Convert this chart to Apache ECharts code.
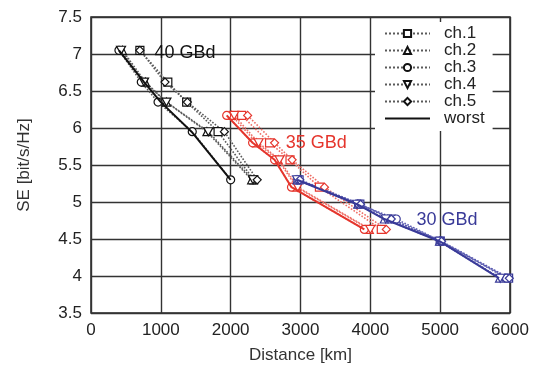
<!DOCTYPE html>
<html>
<head>
<meta charset="utf-8">
<script src="https://cdn.jsdelivr.net/npm/echarts@6/dist/echarts.min.js"></script>
<style>
  html, body { margin: 0; padding: 0; background: #fff; }
  #chart { width: 533px; height: 369px; }
</style>
</head>
<body>
<div id="chart"></div>
<script>
// 40 GBd
var se40 = [7.05, 6.62, 6.35, 5.95, 5.3];
var d40ch1 = [700, 1100, 1370, 1820, 2330];
var d40ch2 = [450, 780, 1080, 1660, 2300];
var d40ch3 = [400, 720, 960, 1450, 2000];
var d40ch4 = [430, 760, 1080, 1680, 2320];
var d40ch5 = [700, 1060, 1380, 1910, 2380];
var d40worst = [400, 760, 1000, 1440, 2000];

// 35 GBd
var se35 = [6.17, 5.8, 5.57, 5.2, 4.63];
var d35ch1 = [2157, 2557, 2850, 3271, 4157];
var d35ch2 = [2014, 2371, 2680, 2943, 3986];
var d35ch3 = [1943, 2314, 2629, 2871, 3914];
var d35ch4 = [2050, 2400, 2700, 2960, 4000];
var d35ch5 = [2243, 2629, 2880, 3343, 4229];
var d35worst = [1943, 2314, 2629, 2871, 3914];

// 30 GBd
var se30 = [5.3, 4.97, 4.77, 4.47, 3.97];
var d30ch1 = [2980, 3850, 4300, 5000, 5980];
var d30ch2 = [2950, 3820, 4200, 4990, 5850];
var d30ch3 = [2960, 3830, 4371, 5010, 5950];
var d30ch4 = [2950, 3810, 4220, 4990, 5860];
var d30ch5 = [2990, 3860, 4300, 5020, 5990];
var d30worst = [2950, 3810, 4200, 4990, 5843];

var xTicks = [0, 1000, 2000, 3000, 4000, 5000, 6000];
var yTicks = [3.5, 4, 4.5, 5, 5.5, 6, 6.5, 7, 7.5];

var names = ["ch.1", "ch.2", "ch.3", "ch.4", "ch.5", "worst"];
var symbols = ["rect", "triangle", "circle", "path://M0,0 L10,0 L5,9 Z", "diamond", "none"];

var groups = [
  { se: se40, d: [d40ch1, d40ch2, d40ch3, d40ch4, d40ch5, d40worst], main: "#111111", dot: "#5a5a5a", label: "40 GBd", at: [910, 7.01] },
  { se: se35, d: [d35ch1, d35ch2, d35ch3, d35ch4, d35ch5, d35worst], main: "#e5352c", dot: "#ee6e66", label: "35 GBd", at: [2790, 5.8] },
  { se: se30, d: [d30ch1, d30ch2, d30ch3, d30ch4, d30ch5, d30worst], main: "#393a98", dot: "#5a5bb0", label: "30 GBd", at: [4660, 4.76] }
];

var FONT = "Liberation Sans";

function pairs(xs, ys) {
  return xs.map(function (x, i) { return [x, ys[i]]; });
}

var series = [];
groups.forEach(function (g) {
  g.d.forEach(function (xs, k) {
    var worst = k === 5;
    series.push({
      name: names[k],
      type: "line",
      data: pairs(xs, g.se),
      symbol: symbols[k],
      symbolSize: k === 3 ? [9, 8] : 8,
      showSymbol: !worst,
      z: worst ? 3 : 2,
      lineStyle: {
        color: worst ? g.main : g.dot,
        width: worst ? 2 : 1.6,
        type: worst ? "solid" : "dotted"
      },
      itemStyle: { color: "#fff", borderColor: g.main, borderWidth: 1.2 },
      emphasis: { disabled: true },
      animation: false
    });
  });
});

var legendData = names.map(function (n) {
  if (n === "worst") {
    return { name: n, itemStyle: { color: "rgba(0,0,0,0)", borderColor: "rgba(0,0,0,0)", borderWidth: 0 } };
  }
  return { name: n };
});

var chart = echarts.init(document.getElementById("chart"));
chart.setOption({
  backgroundColor: "#fff",
  animation: false,
  grid: {
    left: 91, right: 23, top: 17, bottom: 56,
    show: true, borderColor: "#222", borderWidth: 1.5
  },
  legend: {
    data: legendData,
    orient: "vertical",
    left: 375,
    top: 22,
    width: 123,
    padding: [3, 8, 4, 9],
    backgroundColor: "#fff",
    itemWidth: 45,
    itemHeight: 9,
    itemGap: 0,
    textStyle: { fontFamily: FONT, fontSize: 17, color: "#222", lineHeight: 15.6, padding: [0, 0, 0, 9] },
    selectedMode: false
  },
  xAxis: {
    type: "value",
    min: xTicks[0], max: xTicks[xTicks.length - 1], interval: 1000,
    name: "Distance [km]",
    nameLocation: "middle",
    nameGap: 34,
    nameTextStyle: { fontFamily: FONT, fontSize: 17, color: "#333" },
    axisLine: { show: false },
    axisTick: { show: false },
    axisLabel: {
      fontFamily: FONT, fontSize: 17, color: "#222", margin: 9,
      formatter: function (v) { return String(v); }
    },
    splitLine: { lineStyle: { color: "#333", width: 1.4 } }
  },
  yAxis: {
    type: "value",
    min: yTicks[0], max: yTicks[yTicks.length - 1], interval: 0.5,
    name: "SE [bit/s/Hz]",
    nameLocation: "middle",
    nameGap: 58,
    nameTextStyle: { fontFamily: FONT, fontSize: 17, color: "#333" },
    axisLine: { show: false },
    axisTick: { show: false },
    axisLabel: { fontFamily: FONT, fontSize: 17, color: "#222", margin: 9 },
    splitLine: { lineStyle: { color: "#333", width: 1.4 } }
  },
  series: series
});

// group labels placed at data coordinates
var texts = groups.map(function (g) {
  var p = chart.convertToPixel({ gridIndex: 0 }, g.at);
  return {
    type: "text",
    x: p[0], y: p[1],
    z: 10,
    style: {
      text: g.label, fill: g.main, font: "18px " + FONT,
      textAlign: "left", textVerticalAlign: "middle"
    }
  };
});
chart.setOption({ graphic: texts });
</script>
</body>
</html>
